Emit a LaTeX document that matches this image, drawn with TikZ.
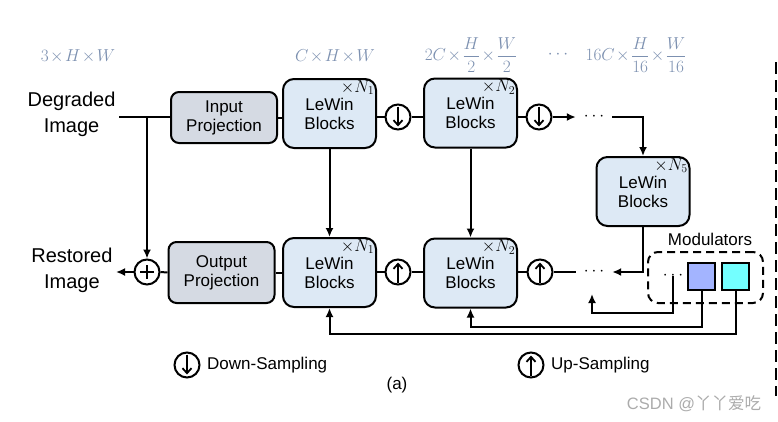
\documentclass[tikz,border=0pt]{standalone}
\usepackage{fontspec}
\setmainfont{Liberation Sans}
\newfontfamily\cjkfont{Noto Sans CJK SC}
\usetikzlibrary{arrows.meta}
\definecolor{blockblue}{HTML}{DDE9F5}
\definecolor{projgray}{HTML}{D5DAE3}
\definecolor{dimcolor}{HTML}{7C90B0}
\definecolor{modblue}{HTML}{A3B4FF}
\definecolor{modcyan}{HTML}{73FFFF}
\newcommand{\by}{\mskip1.5mu\mathord{\times}\mskip1.5mu}
\tikzstyle{lewin}=[
    draw,line width=2pt,rounded corners=11pt,fill=blockblue,
    minimum width=93pt,minimum height=69pt,align=center,
    font=\fontsize{17}{19}\selectfont
    ]
\tikzstyle{proj}=[
    draw,line width=2pt,rounded corners=8pt,fill=projgray,
    minimum width=106pt,align=center,
    font=\fontsize{17}{19}\selectfont
    ]
\tikzstyle{repeat}=[anchor=north east,inner xsep=2.5pt,inner ysep=2pt,font=\fontsize{17}{17}\selectfont]
\tikzstyle{ring}=[draw,circle,line width=2pt,minimum size=25pt,inner sep=0pt]
\tikzstyle{downring}=[ring,
    path picture={\draw[line width=1.8pt,-{Straight Barb[length=5pt,width=9pt]}]
      ([yshift=-2pt]path picture bounding box.north) -- ([yshift=3pt]path picture bounding box.south);}
    ]
\tikzstyle{upring}=[ring,
    path picture={\draw[line width=1.8pt,-{Straight Barb[length=5pt,width=9pt]}]
      ([yshift=2pt]path picture bounding box.south) -- ([yshift=-3pt]path picture bounding box.north);}
    ]
\tikzstyle{plusring}=[ring,
    path picture={\draw[line width=1.4pt]
      ([xshift=5.5pt]path picture bounding box.west) -- ([xshift=-5.5pt]path picture bounding box.east)
      ([yshift=-5.5pt]path picture bounding box.north) -- ([yshift=5.5pt]path picture bounding box.south);}
    ]
\tikzstyle{dim}=[text=dimcolor,font=\fontsize{16}{18}\selectfont]
\tikzstyle{io}=[align=center,font=\fontsize{20}{26}\selectfont]
\tikzstyle{dots}=[inner sep=0pt,font=\fontsize{17}{17}\selectfont]
\tikzstyle{note}=[font=\fontsize{17}{19}\selectfont]
\tikzstyle{wire}=[line width=2pt]
\tikzstyle{arr}=[wire,-{Latex[length=9pt,width=8pt]}]
\tikzstyle{modsq}=[draw,line width=2pt,minimum size=27pt,inner sep=0pt]

\begin{document}
\begin{tikzpicture}[x=1pt,y=-1pt]
\useasboundingbox (0,0) rectangle (778,421);
%feature sizes
\node[dim] (s0) at (78,56) {$3\by H\by W$};
\node[dim] (s1) at (335,56) {$C\by H\by W$};
\node[dim] (s2) at (471,55) {$\displaystyle 2C\by\frac{H}{2}\by\frac{W}{2}$};
\node[dim] (s3) at (558,55) {$\cdots$};
\node[dim] (s4) at (636,55) {$\displaystyle 16C\by\frac{H}{16}\by\frac{W}{16}$};
%input and output
\node[io,anchor=east] (deg) at (119,114) {Degraded\\Image};
\node[io,anchor=east] (rest) at (116,270) {Restored\\Image};
\node[proj,minimum height=51pt] (inproj) at (224,117.5) {Input\\Projection};
\node[proj,minimum height=61pt] (outproj) at (221.5,272.5) {Output\\Projection};
\node[plusring] (plus) at (147,272) {};
\coordinate (split) at (147,117);
%encoder
\node[lewin] (enc1) at (329.5,113.5) {LeWin\\Blocks};
\node[lewin] (enc2) at (470.5,113) {LeWin\\Blocks};
\node[lewin] (enc5) at (643,191.5) {LeWin\\Blocks};
\node[downring] (down1) at (398,117) {};
\node[downring] (down2) at (539,117) {};
\node[dots,minimum width=36pt] (dtop) at (594,117) {$\cdots$};
%decoder
\node[lewin] (dec1) at (329.5,272.5) {LeWin\\Blocks};
\node[lewin] (dec2) at (470.5,273) {LeWin\\Blocks};
\node[upring] (up1) at (398,272) {};
\node[upring] (up2) at (540,272) {};
\node[dots,minimum width=36pt] (dbot) at (594,272) {$\cdots$};
%block repeats
\node[repeat] (r1) at (enc1.north east) {$\mathord{\times}N_1$};
\node[repeat] (r2) at (enc2.north east) {$\mathord{\times}N_2$};
\node[repeat] (r5) at (enc5.north east) {$\mathord{\times}N_5$};
\node[repeat] (r6) at (dec1.north east) {$\mathord{\times}N_1$};
\node[repeat] (r7) at (dec2.north east) {$\mathord{\times}N_2$};
%modulators
\node[draw,line width=2pt,dash pattern=on 8pt off 5pt,rounded corners=10pt,
  minimum width=115pt,minimum height=51pt] (modbox) at (705.5,277.5) {};
\node[note] (modlabel) at (710,239) {Modulators};
\node[dots] (mdots) at (673,276) {$\cdots$};
\node[modsq,fill=modblue] (m1) at (701.5,276.5) {};
\node[modsq,fill=modcyan] (m2) at (735.5,276.5) {};
\coordinate (fb) at (592,294);
%top path
\draw[wire] (deg.east|-split) -- (inproj.west|-split);
\draw[arr] (split) -- (plus.north);
\draw[wire] (inproj.east) -- (inproj.east-|enc1.west);
\draw[wire] (enc1.east|-down1) -- (down1.west);
\draw[wire] (down1.east) -- (down1.east-|enc2.west);
\draw[wire] (enc2.east|-down2) -- (down2.west);
\draw[arr] (down2.east) -- (dtop.west);
\draw[arr] (dtop.east) -| (enc5.north);
%bottom path
\draw[arr] (enc5.south) |- (dbot.east);
\draw[wire] (dbot.west) -- (up2.east);
\draw[wire] (up2.west) -- (up2.west-|dec2.east);
\draw[wire] (dec2.west|-up1) -- (up1.east);
\draw[wire] (up1.west) -- (up1.west-|dec1.east);
\draw[wire] (dec1.west|-outproj) -- (outproj.east);
\draw[wire] (outproj.west) -- (plus.east);
\draw[arr] (plus.west) -- (plus.west-|rest.east);
%skips
\draw[arr] (enc1.south) -- (dec1.north);
\draw[arr] (enc2.south) -- (dec2.north);
%modulator feeds
\draw[arr] ([yshift=4pt]mdots.south) -- ++(0,37) -| (fb);
\draw[arr] (m1.south) -- ++(0,36) -| (dec2.south);
\draw[arr] (m2.south) -- ++(0,43) -| (dec1.south);
%divider
\draw[line width=2pt,dash pattern=on 12pt off 6pt] (776,62) -- (776,396);
%legend
\node[downring] (ldown) at (187,365) {};
\node[note,anchor=west,inner sep=0pt] (ldtext) at (207,365) {Down-Sampling};
\node[upring] (lup) at (531,365) {};
\node[note,anchor=west,inner sep=0pt] (lutext) at (551,365) {Up-Sampling};
\node[note] (cap) at (397,385) {(a)};
\node[text=black!33,font=\fontsize{16.5}{17}\selectfont] (mark) at (694,404) {CSDN @\cjkfont 丫丫爱吃};
\end{tikzpicture}
\end{document}
